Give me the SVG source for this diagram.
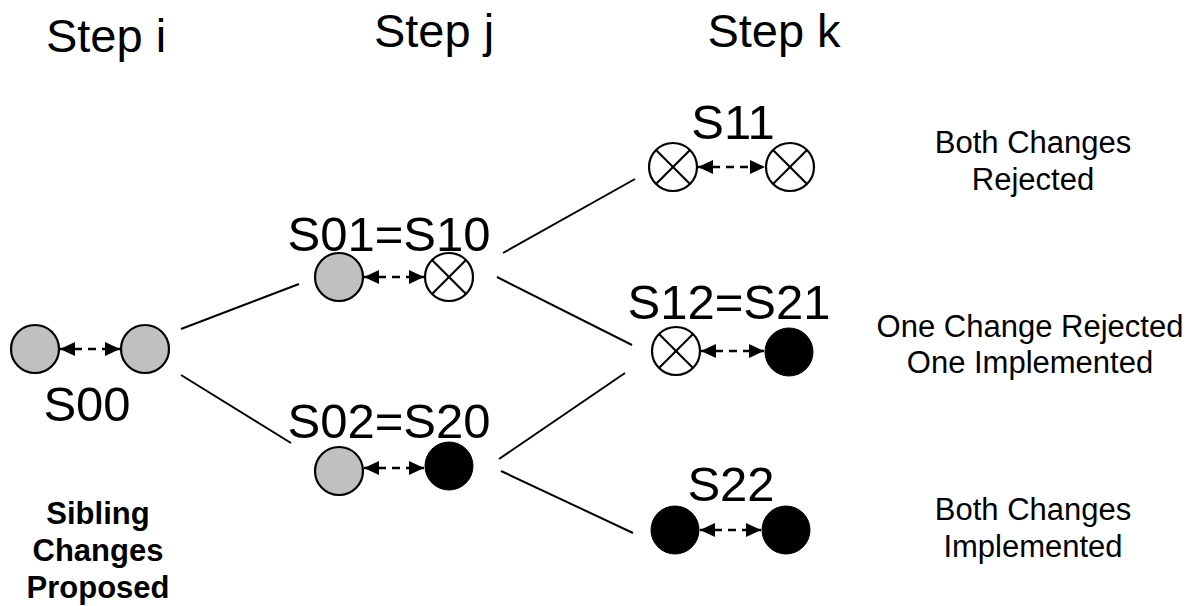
<svg xmlns="http://www.w3.org/2000/svg" width="1192" height="606" viewBox="0 0 1192 606">
  <style>
    .big { font-family: "Liberation Sans", Arial, sans-serif; font-size: 47px; fill: #000; text-anchor: middle; }
    .lbl { font-family: "Liberation Sans", Arial, sans-serif; font-size: 49px; fill: #000; text-anchor: middle; }
    .note { font-family: "Liberation Sans", Arial, sans-serif; font-size: 31px; fill: #000; text-anchor: middle; }
    .bold { font-family: "Liberation Sans", Arial, sans-serif; font-size: 31px; font-weight: bold; fill: #000; text-anchor: middle; }
    .gray { fill: #c0c0c0; stroke: #000; stroke-width: 2.2; }
    .blk { fill: #000; stroke: #000; stroke-width: 1; }
    .rej { fill: #fff; stroke: #000; stroke-width: 2.2; }
    .xl { stroke: #000; stroke-width: 2.2; }
    .edge { stroke: #000; stroke-width: 2; fill: none; }
    .link { stroke: #000; stroke-width: 2.5; stroke-dasharray: 8 6; fill: none; marker-start: url(#tipL); marker-end: url(#tipR); }
  </style>
  <defs>
    <marker id="tipR" viewBox="0 0 15 14" refX="15" refY="7" markerWidth="15" markerHeight="14" markerUnits="userSpaceOnUse" orient="auto">
      <path d="M0,0 L15,7 L0,14 z" fill="#000"/>
    </marker>
    <marker id="tipL" viewBox="0 0 15 14" refX="0" refY="7" markerWidth="15" markerHeight="14" markerUnits="userSpaceOnUse" orient="auto">
      <path d="M15,0 L0,7 L15,14 z" fill="#000"/>
    </marker>
    <g id="xmark">
      <circle r="24" class="rej"/>
      <line x1="-17" y1="-17" x2="17" y2="17" class="xl"/>
      <line x1="17" y1="-17" x2="-17" y2="17" class="xl"/>
    </g>
  </defs>
  <rect width="1192" height="606" fill="#fff"/>

  <!-- column headings -->
  <g id="headings">
    <text class="big" x="106" y="52">Step i</text>
    <text class="big" x="434" y="47">Step j</text>
    <text class="big" x="774" y="47">Step k</text>
  </g>

  <!-- tree edges -->
  <g id="connectors">
    <line class="edge" x1="181" y1="329" x2="299" y2="284"/>
    <line class="edge" x1="181" y1="375" x2="291" y2="443"/>
    <line class="edge" x1="503" y1="253" x2="635" y2="179"/>
    <line class="edge" x1="497" y1="277" x2="632" y2="345"/>
    <line class="edge" x1="499" y1="459" x2="625" y2="373"/>
    <line class="edge" x1="501" y1="471" x2="633" y2="533"/>
  </g>

  <!-- S00 -->
  <g id="s00">
    <circle cx="35" cy="349" r="24" class="gray"/>
    <circle cx="145" cy="349" r="24" class="gray"/>
    <line class="link" x1="60" y1="349" x2="120" y2="349"/>
    <text class="lbl" x="87" y="421">S00</text>
  </g>

  <!-- S01=S10 -->
  <g id="s01">
    <circle cx="339" cy="277" r="24" class="gray"/>
    <use href="#xmark" x="449" y="277"/>
    <line class="link" x1="364" y1="277" x2="424" y2="277"/>
    <text class="lbl" x="389" y="251">S01=S10</text>
  </g>

  <!-- S02=S20 -->
  <g id="s02">
    <circle cx="339" cy="471" r="24" class="gray"/>
    <circle cx="449" cy="466" r="24" class="blk"/>
    <line class="link" x1="364" y1="468" x2="424" y2="468"/>
    <text class="lbl" x="389" y="438">S02=S20</text>
  </g>

  <!-- S11 -->
  <g id="s11">
    <use href="#xmark" x="673" y="167"/>
    <use href="#xmark" x="790" y="167"/>
    <line class="link" x1="698" y1="167" x2="765" y2="167"/>
    <text class="lbl" x="733" y="139">S11</text>
  </g>

  <!-- S12=S21 -->
  <g id="s12">
    <use href="#xmark" x="676" y="351"/>
    <circle cx="789" cy="352" r="24" class="blk"/>
    <line class="link" x1="701" y1="351" x2="764" y2="351"/>
    <text class="lbl" x="729" y="319">S12=S21</text>
  </g>

  <!-- S22 -->
  <g id="s22">
    <circle cx="675" cy="530" r="24" class="blk"/>
    <circle cx="786" cy="530" r="24" class="blk"/>
    <line class="link" x1="700" y1="530" x2="761" y2="530"/>
    <text class="lbl" x="731" y="501">S22</text>
  </g>

  <!-- outcome notes -->
  <g id="notes">
    <text class="note" x="1033" y="153">Both Changes</text>
    <text class="note" x="1033" y="190">Rejected</text>
    <text class="note" x="1030" y="337">One Change Rejected</text>
    <text class="note" x="1030" y="373">One Implemented</text>
    <text class="note" x="1033" y="520">Both Changes</text>
    <text class="note" x="1033" y="557">Implemented</text>
    <text class="bold" x="98" y="524">Sibling</text>
    <text class="bold" x="98" y="561">Changes</text>
    <text class="bold" x="98" y="598">Proposed</text>
  </g>
</svg>
